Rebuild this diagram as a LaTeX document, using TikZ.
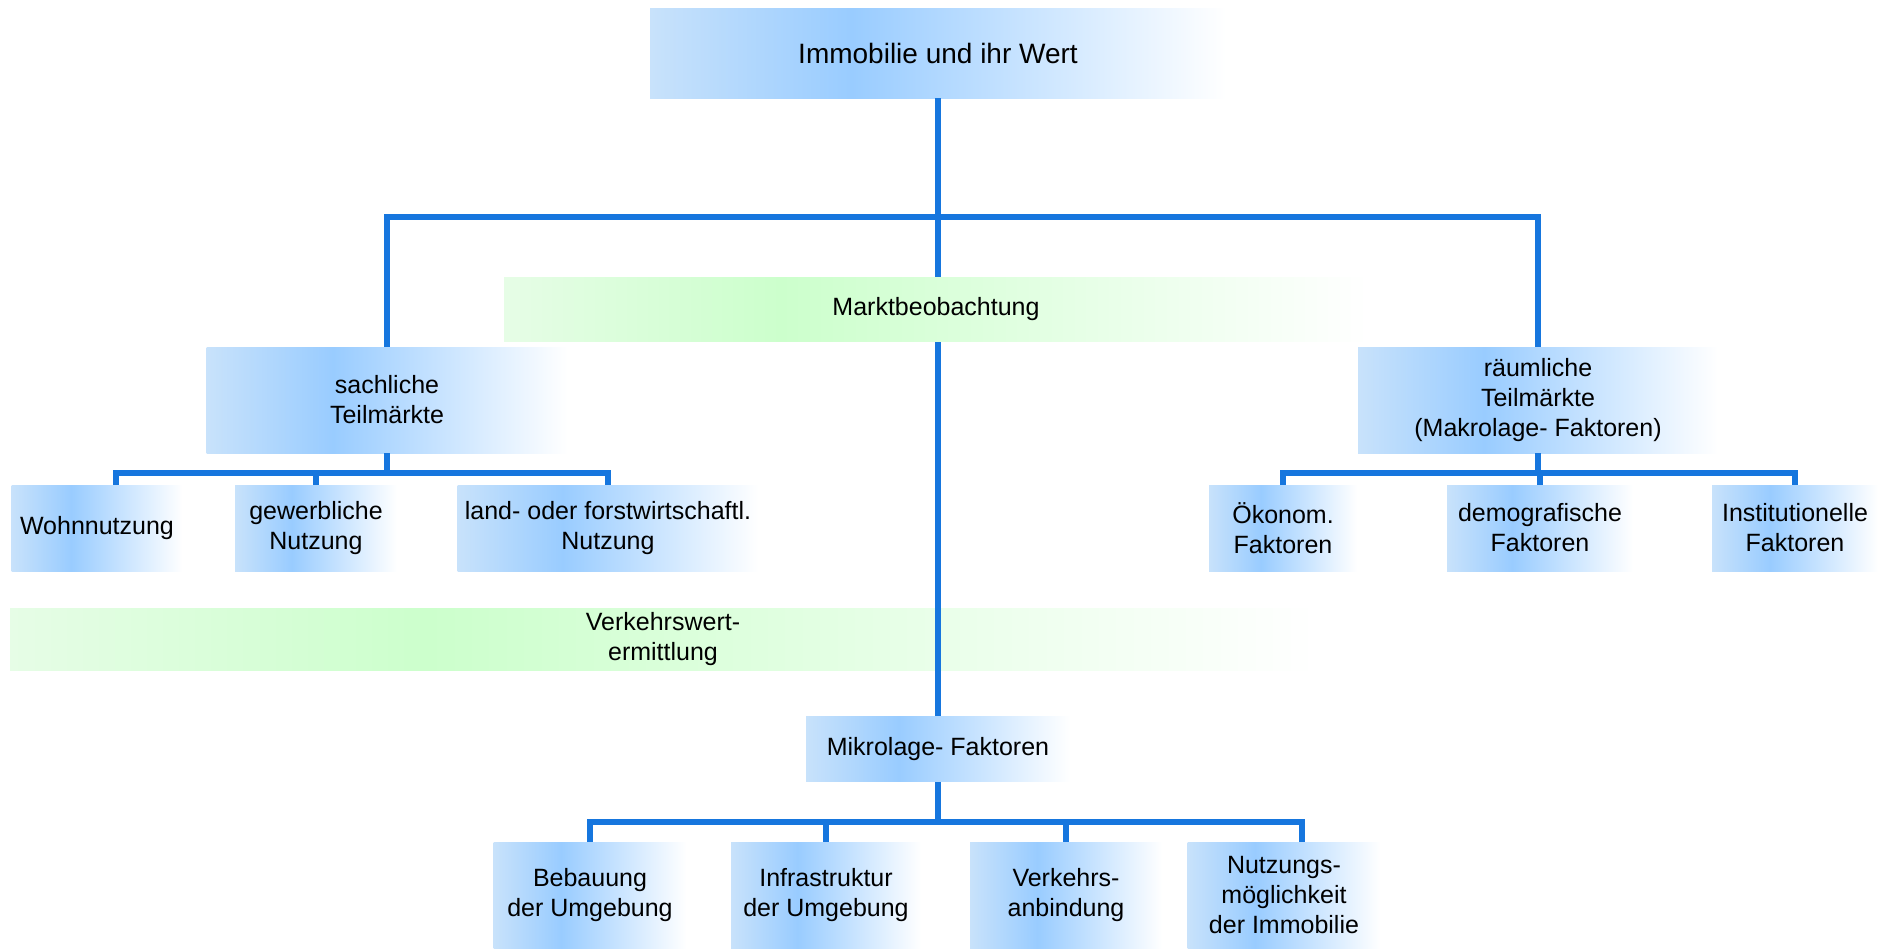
\documentclass[tikz,border=0pt]{standalone}
\usepackage{fontspec}
\setmainfont{Liberation Sans}

\definecolor{boxlight}{RGB}{200,226,251}
\definecolor{boxdark}{RGB}{153,204,255}
\definecolor{barlight}{RGB}{230,253,230}
\definecolor{bardark}{RGB}{204,255,204}
\definecolor{linkblue}{RGB}{22,118,222}

\pgfdeclarehorizontalshading{blueshade}{100bp}{color(0bp)=(boxlight); color(25bp)=(boxlight); color(42.5bp)=(boxdark); color(75bp)=(white); color(100bp)=(white)}
\pgfdeclarehorizontalshading{greenshade}{100bp}{color(0bp)=(barlight); color(25bp)=(barlight); color(41bp)=(bardark); color(75bp)=(white); color(100bp)=(white)}

\tikzset{
  box/.style={rectangle, shading=blueshade, align=center, inner sep=0pt,
    font=\fontsize{12.5}{15}\selectfont},
  bar/.style={rectangle, shading=greenshade, align=center, inner sep=0pt,
    font=\fontsize{12.5}{15}\selectfont},
  conn/.style={draw=linkblue, line width=3.2pt}
}

\begin{document}
\begin{tikzpicture}[x=0.5pt, y=-0.5pt]
    \useasboundingbox (0,0) rectangle (1879,949);
    \node[box, minimum width=288pt, minimum height=45pt, font=\fontsize{14}{16}\selectfont] (wert) at (938,53) {Immobilie und ihr Wert};
    \node[box, minimum width=180.5pt, minimum height=53pt] (sach) at (387,400) {sachliche\\Teilmärkte};
    \node[box, minimum width=180pt, minimum height=53pt] (raum) at (1538,400) {räumliche\\Teilmärkte\\(Makrolage- Faktoren)};
    \node[box, minimum width=85.5pt, minimum height=43pt] (wohn) at (97,528) {Wohnnutzung};
    \node[box, minimum width=81pt, minimum height=43pt] (gew) at (316,528) {gewerbliche\\Nutzung};
    \node[box, minimum width=150.5pt, minimum height=43pt] (land) at (608,528) {land- oder forstwirtschaftl.\\Nutzung};
    \node[box, minimum width=74pt, minimum height=43pt] (oek) at (1283,528) {Ökonom.\\Faktoren};
    \node[box, minimum width=93pt, minimum height=43pt] (demo) at (1540,528) {demografische\\Faktoren};
    \node[box, minimum width=83pt, minimum height=43pt] (inst) at (1795,528) {Institutionelle\\Faktoren};
    \node[bar, minimum width=653pt, minimum height=31pt] (verk) at (663,639) {Verkehrswert-\\ermittlung};
    \node[box, minimum width=132pt, minimum height=32.5pt] (mikro) at (938,749) {Mikrolage- Faktoren};
    \node[box, minimum width=96.5pt, minimum height=53pt] (beb) at (590,895) {Bebauung\\der Umgebung};
    \node[box, minimum width=95pt, minimum height=53pt] (infra) at (826,895) {Infrastruktur\\der Umgebung};
    \node[box, minimum width=96pt, minimum height=53pt] (verkehr) at (1066,895) {Verkehrs-\\anbindung};
    \node[box, minimum width=96.5pt, minimum height=53pt] (nutz) at (1284,895) {Nutzungs-\\möglichkeit\\der Immobilie};
    \coordinate (topbus) at (938,217);
    \coordinate (sachbus) at (387,473);
    \coordinate (raumbus) at (1538,473);
    \coordinate (mikrobus) at (938,822);
    \draw[conn] (wert.south) -- (mikro.north);
    \draw[conn] (sach.north) |- (topbus) -| (raum.north);
    \draw[conn] (sach.south) -- (sachbus);
    \draw[conn] ([xshift=9.5pt]wohn.north) |- (sachbus) -| (land.north);
    \draw[conn] (gew.north) -- (gew.north |- sachbus);
    \draw[conn] (raum.south) -- (raumbus);
    \draw[conn] (oek.north) |- (raumbus) -| (inst.north);
    \draw[conn] (demo.north) -- (demo.north |- raumbus);
    \draw[conn] (mikro.south) -- (mikrobus);
    \draw[conn] (beb.north) |- (mikrobus) -| ([xshift=9pt]nutz.north);
    \draw[conn] (infra.north) -- (infra.north |- mikrobus);
    \draw[conn] (verkehr.north) -- (verkehr.north |- mikrobus);
    \node[bar, minimum width=432pt, minimum height=32pt] (markt) at (936,309) {Marktbeobachtung};
\end{tikzpicture}
\end{document}
